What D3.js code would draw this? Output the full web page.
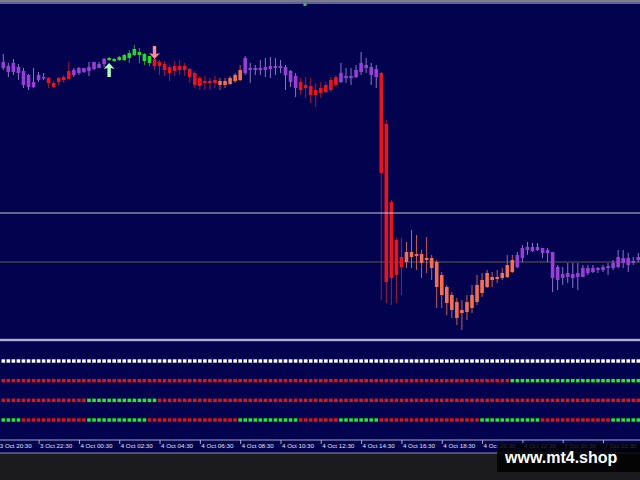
<!DOCTYPE html>
<html><head><meta charset="utf-8">
<script src="https://cdn.jsdelivr.net/npm/d3@7/dist/d3.min.js"></script>
<style>html,body{margin:0;padding:0;background:#02024f;overflow:hidden}</style>
</head><body><svg id="c" width="640" height="480"></svg>
<script>
// ---- data (prices in points) ----
const open = [278,274,277,273,269,253,258,260,263,262,
257,258,260,261,270,267,268,269,271,272,
276,280,279,280,280,282,285,288,286,284,
281,278,276,273,269,274,274,271,267,262,
259,257,257,259,255,256,259,260,267,272,
270,270,270,271,274,272,273,269,264,258,
255,254,245,247,248,250,255,258,264,262,
263,268,275,273,271,267,216,138,100,83,
78,83,86,86,80,82,78,65,53,45,
38,27,28,32,38,47,53,63,61,62,
63,68,73,82,90,93,90,92,90,88,
60,66,63,66,63,63,72,68,70,70,
72,72,73,82,75,79,80];
const high = [286,277,281,276,272,266,272,268,267,263,
259,263,265,278,272,273,272,278,278,278,
282,283,282,284,286,290,295,292,287,284,
282,280,279,275,279,280,277,272,269,264,
264,262,264,262,262,264,267,275,284,277,
275,280,282,283,282,280,275,270,267,262,
263,262,257,258,258,263,265,277,272,272,
275,288,282,277,275,268,220,140,102,102,
98,110,105,90,103,85,80,68,55,48,
42,40,45,55,65,67,70,68,70,72,
85,85,88,95,98,97,97,92,92,88,
75,73,77,77,77,75,75,75,73,75,
77,80,90,90,87,83,87];
const low = [270,263,265,260,252,250,252,258,260,252,
252,255,257,262,263,265,267,264,270,272,
273,279,278,279,279,277,284,277,275,274,
270,265,264,259,264,265,264,257,252,250,
250,250,252,250,252,255,257,259,265,257,
265,265,263,262,265,267,250,253,243,245,
242,237,233,242,247,248,253,257,257,255,
262,265,267,255,252,40,37,35,37,45,
72,72,70,62,67,60,32,32,25,22,
15,10,20,27,35,43,52,53,57,60,
62,67,72,78,85,88,89,82,78,48,
50,55,57,52,50,63,65,67,67,68,
65,70,72,72,68,75,78];
const close = [272,268,268,267,255,265,253,265,262,257,
253,262,263,269,265,272,272,273,278,276,
281,282,281,283,285,287,291,285,279,277,
274,274,270,267,274,270,270,263,255,254,
257,259,260,255,259,262,265,270,282,270,
272,272,273,274,272,274,265,258,252,250,
252,245,250,252,255,260,263,267,262,264,
270,277,272,265,263,167,58,62,65,73,
88,88,84,77,82,72,53,45,37,30,
22,30,38,45,55,60,67,60,63,67,
75,80,85,92,93,89,93,87,87,62,
73,62,67,62,67,72,67,72,72,73,
74,77,83,77,82,77,83];
// trend colour state per candle: P neutral, R down, S weak down, G up
const trend = ("PPPPPPPPP"+"RRRRR"+"PPPPPPP"+"GGGGGGGGG"+"RRRRRRRRRRRRR"+"SSSSS"+
  "PPPPPPPPPPP"+"RRRRRRRR"+"PPPPPPPP"+"RRRRR"+"SSSSSSSSSSSSSSSSSSSSSS"+
  "PPPPPPPPPPPPPPPPPPPPPPPPP").split("");
// indicator rows (W white, R red, G green)
const row1 = "W".repeat(127).split("");
const row2 = ("R".repeat(101)+"G".repeat(26)).split("");
const row3 = ("R".repeat(17)+"G".repeat(14)+"R".repeat(96)).split("");
const row4 = ("GGGG"+"R".repeat(13)+"G".repeat(12)+"R".repeat(18)+"G".repeat(12)+
  "R".repeat(8)+"G".repeat(8)+"R".repeat(20)+"G".repeat(12)+"R".repeat(14)+"G".repeat(6)).split("");
const rows = [row1,row2,row3,row4];
const tickLabels = ["3 Oct 20:30","3 Oct 22:30","4 Oct 00:30","4 Oct 02:30","4 Oct 04:30",
  "4 Oct 06:30","4 Oct 08:30","4 Oct 10:30","4 Oct 12:30","4 Oct 14:30","4 Oct 16:30",
  "4 Oct 18:30","4 Oct 20:30","4 Oct 22:30","7 Oct 00:30","7 Oct 02:30"];
const levels = [127, 78];
const signals = [{i:21,type:"buy"},{i:30,type:"sell"}];

// ---- drawing ----
const W=640,H=480;
const svg=d3.select("#c");
const bodyCol={P:"#9a3fd6",R:"#e8161a",S:"#f2704f",G:"#22dd22"};
const wickCol={P:"#a88be0",R:"#c0203a",S:"#e87058",G:"#30c040"};
const dotCol={W:"#ffffff",R:"#e01515",G:"#22ee22"};

const x=d3.scaleLinear().domain([0,126]).range([3.3,638.3]);
const y=d3.scaleLinear().domain([0,340]).range([340,0]);
const yr=d3.scalePoint().domain([0,1,2,3]).range([361,420]);

svg.append("rect").attr("width",W).attr("height",H).attr("fill","#02024f");
// top frame
svg.append("rect").attr("x",0).attr("y",0).attr("width",W).attr("height",2).attr("fill","#7c7c90");
svg.append("line").attr("x1",0).attr("x2",W).attr("y1",3).attr("y2",3).attr("stroke","#c4c4d4").attr("stroke-width",1.2);
svg.append("rect").attr("x",303.5).attr("y",3).attr("width",3).attr("height",3).attr("fill","#30c050");

// lower price level (behind)
svg.append("line").attr("x1",0).attr("x2",W).attr("y1",y(levels[1])).attr("y2",y(levels[1]))
  .attr("stroke","#5e5e48").attr("stroke-width",1);

const idx=d3.range(open.length);
const cg=svg.append("g");
cg.selectAll("line").data(idx).join("line")
  .attr("x1",i=>x(i)).attr("x2",i=>x(i))
  .attr("y1",i=>y(high[i])).attr("y2",i=>y(low[i]))
  .attr("stroke",i=>wickCol[trend[i]]).attr("stroke-width",1).attr("opacity",0.85);
cg.selectAll("rect").data(idx).join("rect")
  .attr("x",i=>x(i)-1.8).attr("width",3.6)
  .attr("y",i=>y(Math.max(open[i],close[i])))
  .attr("height",i=>Math.max(1.5,Math.abs(y(open[i])-y(close[i]))))
  .attr("fill",i=>bodyCol[trend[i]]);

// upper price level (front)
svg.append("line").attr("x1",0).attr("x2",W).attr("y1",y(levels[0])).attr("y2",y(levels[0]))
  .attr("stroke","#c8c8d8").attr("stroke-width",1);

// signal arrows
signals.forEach(s=>{
  const cx=x(s.i);
  if(s.type==="buy"){
    const t=y(low[s.i])+2;
    svg.append("path").attr("d",`M${cx},${t} L${cx+5.5},${t+6} L${cx+1.7},${t+5} L${cx+1.7},${t+14} L${cx-1.7},${t+14} L${cx-1.7},${t+5} L${cx-5.5},${t+6} Z`)
      .attr("fill","#b4ffc0");
  } else {
    const b=y(high[s.i])+1;
    svg.append("path").attr("d",`M${cx},${b} L${cx+5.5},${b-6} L${cx+1.7},${b-5} L${cx+1.7},${b-13} L${cx-1.7},${b-13} L${cx-1.7},${b-5} L${cx-5.5},${b-6} Z`)
      .attr("fill","#ff8c9c");
  }
});

// separator
svg.append("rect").attr("x",0).attr("y",338.8).attr("width",W).attr("height",2.4).attr("fill","#b0b0d2");

// indicator rows
rows.forEach((r,k)=>{
  svg.append("g").selectAll("rect").data(idx).join("rect")
    .attr("x",i=>x(i)-1.8).attr("y",yr(k)-1.7).attr("width",3.6).attr("height",3.4)
    .attr("fill",i=>dotCol[r[i]]);
});

// time axis
svg.append("line").attr("x1",0).attr("x2",W).attr("y1",440).attr("y2",440).attr("stroke","#a8a8cc").attr("stroke-width",1.2);
const tickIdx=tickLabels.map((d,k)=>-1+8*k);
const axis=d3.axisBottom(x).tickValues(tickIdx).tickFormat((d,k)=>tickLabels[k]).tickSize(4).tickSizeOuter(0);
const ax=svg.append("g").attr("transform","translate(0,440)").call(axis);
ax.select(".domain").remove();
ax.selectAll(".tick line").attr("stroke","#a8a8cc");
ax.selectAll(".tick text").attr("text-anchor","start").attr("x",1).attr("y",3.6)
  .attr("fill","#e4e4f4").style("font-family","'Liberation Sans',Arial,sans-serif").style("font-size","6.2px");

// bottom strip
svg.append("rect").attr("x",0).attr("y",453).attr("width",W).attr("height",27).attr("fill","#1b1b1e");
svg.append("line").attr("x1",0).attr("x2",W).attr("y1",453).attr("y2",453).attr("stroke","#9090a8").attr("stroke-width",1);

// watermark
svg.append("rect").attr("x",497).attr("y",443).attr("width",143).attr("height",29).attr("fill","#000").attr("opacity",0.82);
svg.append("text").attr("x",505).attr("y",463).text("www.mt4.shop")
  .attr("fill","#ffffff").style("font-family","'Liberation Sans',Arial,sans-serif").style("font-weight","bold").style("font-size","16px");
</script></body></html>
